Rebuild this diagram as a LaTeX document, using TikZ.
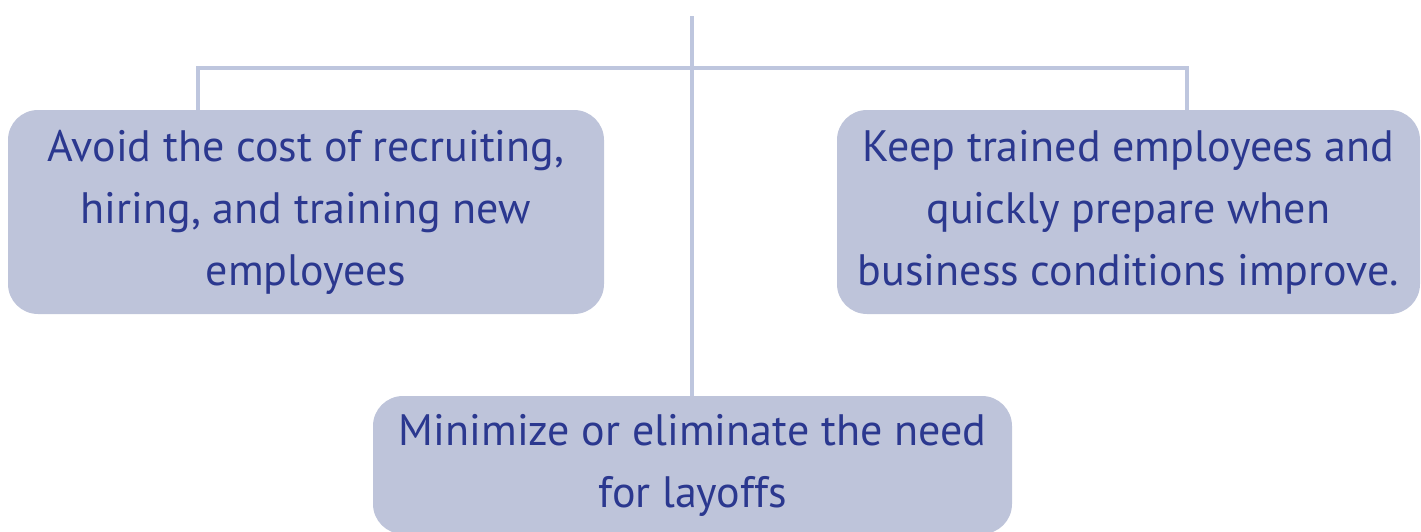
\documentclass[tikz,border=0pt]{standalone}
\usepackage{fontspec}
\setmainfont{PT Sans}
\usepackage{xcolor}
\usepackage{tikz}
\usetikzlibrary{shapes,arrows.meta}
\definecolor{boxfill}{RGB}{190,196,218}
\definecolor{txtblue}{RGB}{43,56,143}
\definecolor{linegray}{RGB}{190,198,222}
\tikzset{
    goalbox/.style={draw=none,fill=boxfill,rectangle,rounded corners=15pt,align=center,
        text=txtblue,font=\fontsize{22}{31}\selectfont,inner sep=0pt},
    link/.style={draw=linegray,line width=2pt}
}
\begin{document}
\begin{tikzpicture}[x=0.5pt,y=-0.5pt]
            \useasboundingbox (0,0) rectangle (1421,531);
            \node[goalbox,minimum width=298pt,minimum height=102pt] (1) at (306,212) {Avoid the cost of recruiting,\\hiring, and training new\\employees};
            \node[goalbox,minimum width=291.5pt,minimum height=102pt] (2) at (1128.5,212) {Keep trained employees and\\quickly prepare when\\business conditions improve.};
            \node[goalbox,minimum width=319.5pt,minimum height=69pt] (3) at (692.5,465) {Minimize or eliminate the need\\for layoffs};
            \coordinate (0) at (692,16);
            \coordinate (a) at (198,68);
            \coordinate (b) at (1187,68);
            \draw[link] (1.north -| a) -- (a) -- (b) -- (2.north -| b);
            \draw[link] (0) -- (3.north -| 0);
        \end{tikzpicture}
\end{document}
